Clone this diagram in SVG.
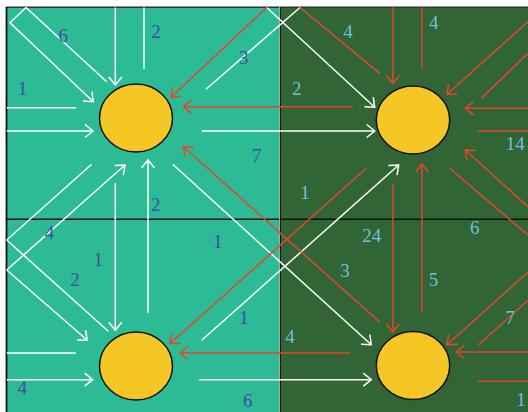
<svg xmlns="http://www.w3.org/2000/svg" width="528" height="412" viewBox="0 0 528 412">
<style>
.w{stroke:#ffffff;stroke-width:1.5;fill:none}
.r{stroke:#e6452e;stroke-width:1.5;fill:none}
.wa{marker-end:url(#aw)}
.ra{marker-end:url(#ar)}
.node{fill:#f4c724;stroke:#111;stroke-width:1.5}
text{font-family:"Liberation Serif","DejaVu Serif",serif;font-size:19px;text-anchor:middle}
.d{fill:#3d4fa7}
.l{fill:#6cc3d4}
</style>
<defs>
<marker id="aw" markerUnits="userSpaceOnUse" viewBox="-10 -10 20 20" refX="0" refY="0" markerWidth="20" markerHeight="20" orient="auto" overflow="visible"><path d="M-8,-6.5 L0,0 L-8,6.5" fill="none" stroke="#ffffff" stroke-width="1.5"/></marker>
<marker id="ar" markerUnits="userSpaceOnUse" viewBox="-10 -10 20 20" refX="0" refY="0" markerWidth="20" markerHeight="20" orient="auto" overflow="visible"><path d="M-8,-6.5 L0,0 L-8,6.5" fill="none" stroke="#e6452e" stroke-width="1.5"/></marker>
</defs>
<rect x="0" y="0" width="528" height="412" fill="#ffffff"/>
<rect x="6.5" y="7" width="273.5" height="405" fill="#2cbb94"/>
<rect x="280" y="7" width="248" height="405" fill="#316535"/>
<g id="grid">
<line x1="6" y1="7.2" x2="528" y2="7.2" stroke="#333" stroke-width="1.5"/>
<line x1="6.5" y1="7" x2="6.5" y2="412" stroke="#111" stroke-width="1.8"/>
<line x1="6" y1="219.3" x2="528" y2="219.3" stroke="#111" stroke-width="1.5"/>
<line x1="279.5" y1="7" x2="279.5" y2="412" stroke="#a8a8a8" stroke-width="1"/>
<line x1="280.5" y1="7" x2="280.5" y2="412" stroke="#111" stroke-width="1"/>
</g>
<g id="connectors">
<line class="w" x1="26" y1="7.5" x2="106.7" y2="81.7"/>
<polyline class="w wa" points="26,7.5 10,22.7 93.3,101.7"/>
<line class="w wa" x1="115.3" y1="7.5" x2="115.3" y2="85"/>
<line class="w" x1="144" y1="7.5" x2="144" y2="69"/>
<line class="w" x1="6.7" y1="107.7" x2="76" y2="107.7"/>
<line class="w wa" x1="6.7" y1="131" x2="93" y2="131"/>
<line class="w" x1="206" y1="89.3" x2="300" y2="7.5"/>
<line class="w wa" x1="266.7" y1="7.5" x2="374.7" y2="107.3"/>
<line class="w wa" x1="201.7" y1="131" x2="374.7" y2="131"/>
<line class="w" x1="91.7" y1="164.3" x2="6.7" y2="240"/>
<line class="w wa" x1="6.7" y1="270" x2="125" y2="165"/>
<line class="w" x1="6.7" y1="240" x2="108.3" y2="331.3"/>
<line class="w wa" x1="6.7" y1="270" x2="87.3" y2="340.3"/>
<line class="w wa" x1="115.3" y1="183.3" x2="115.3" y2="330.3"/>
<line class="w wa" x1="148" y1="312.7" x2="148" y2="160"/>
<line class="w wa" x1="172.7" y1="164.3" x2="371.3" y2="344.7"/>
<line class="w wa" x1="201.7" y1="340.3" x2="398.7" y2="165"/>
<line class="w" x1="6.7" y1="353" x2="76" y2="353"/>
<line class="w wa" x1="6.7" y1="379.7" x2="92.7" y2="379.7"/>
<line class="w wa" x1="199.3" y1="379.7" x2="371.3" y2="379.7"/>
<line class="r ra" x1="266.7" y1="7.5" x2="171" y2="97.3"/>
<line class="r" x1="300" y1="7.5" x2="379.7" y2="73.3"/>
<line class="r ra" x1="353" y1="106.7" x2="183.3" y2="106.7"/>
<line class="r ra" x1="393" y1="7.5" x2="393" y2="83.3"/>
<line class="r" x1="422" y1="7.5" x2="422" y2="69"/>
<line class="r ra" x1="528" y1="21.7" x2="447" y2="94.3"/>
<line class="r" x1="528" y1="53.3" x2="481.3" y2="98.3"/>
<line class="r ra" x1="528" y1="108.3" x2="465.3" y2="108.3"/>
<line class="r" x1="478" y1="131" x2="528" y2="131"/>
<line class="r ra" x1="528" y1="206.7" x2="465.3" y2="150"/>
<line class="r" x1="449.7" y1="168.3" x2="528" y2="235"/>
<line class="r ra" x1="366.3" y1="168.3" x2="170" y2="343.7"/>
<line class="r ra" x1="379.7" y1="322" x2="183.3" y2="146.7"/>
<line class="r ra" x1="393" y1="183.3" x2="393" y2="332"/>
<line class="r ra" x1="422" y1="312.7" x2="422" y2="164.3"/>
<line class="r ra" x1="350" y1="353" x2="180" y2="353"/>
<line class="r ra" x1="528" y1="272" x2="447" y2="344.7"/>
<line class="r" x1="528" y1="300.3" x2="478" y2="345.3"/>
<line class="r ra" x1="528" y1="352" x2="456.3" y2="352"/>
<line class="r" x1="478" y1="381.3" x2="528" y2="381.3"/>
</g>
<g id="node-a"><ellipse class="node" cx="136" cy="118" rx="36.5" ry="34"/></g>
<g id="node-b"><ellipse class="node" cx="413" cy="120" rx="36.7" ry="34"/></g>
<g id="node-c"><ellipse class="node" cx="136" cy="366" rx="36.5" ry="34"/></g>
<g id="node-d"><ellipse class="node" cx="413" cy="365.5" rx="36.7" ry="34"/></g>
<g id="labels">
<text class="d" x="63.3" y="41.7">6</text>
<text class="d" x="156" y="38.3">2</text>
<text class="d" x="22.5" y="95">1</text>
<text class="d" x="243.7" y="64.3">3</text>
<text class="l" x="296.7" y="95">2</text>
<text class="l" x="348" y="38.3">4</text>
<text class="l" x="433.7" y="29.3">4</text>
<text class="l" x="515.3" y="150">14</text>
<text class="d" x="256.7" y="162.3">7</text>
<text class="l" x="305" y="199">1</text>
<text class="d" x="217.7" y="248.3">1</text>
<text class="l" x="345" y="277">3</text>
<text class="l" x="371.7" y="242.3">24</text>
<text class="l" x="474.7" y="234.3">6</text>
<text class="l" x="433.5" y="286">5</text>
<text class="d" x="49.5" y="239">4</text>
<text class="d" x="98.3" y="266">1</text>
<text class="d" x="155.7" y="211">2</text>
<text class="d" x="75" y="286">2</text>
<text class="d" x="22.3" y="393.7">4</text>
<text class="d" x="244" y="323.7">1</text>
<text class="l" x="290" y="343">4</text>
<text class="d" x="247.7" y="407">6</text>
<text class="l" x="510.3" y="323.7">7</text>
<text class="l" x="521" y="406">1</text>
</g>
</svg>
